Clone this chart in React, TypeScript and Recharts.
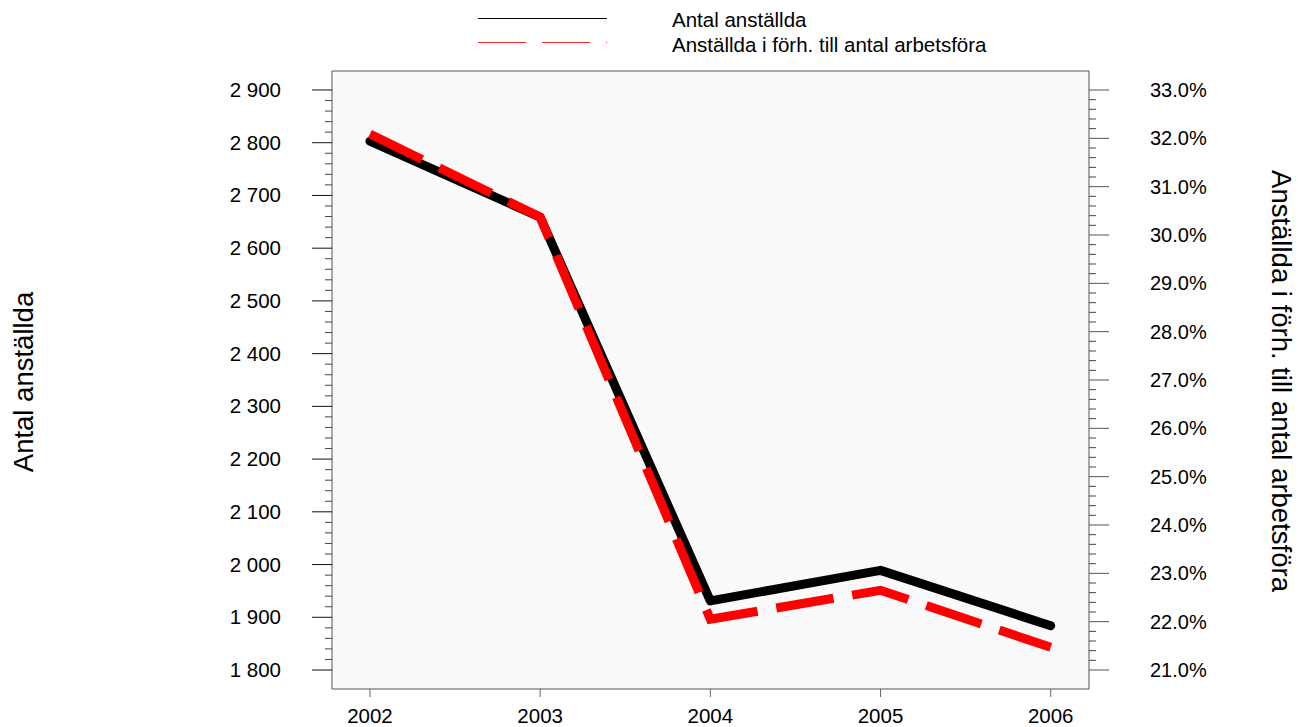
import { LineChart, Line, XAxis, YAxis, ReferenceArea } from "recharts";

const years = [2002, 2003, 2004, 2005, 2006];
const employees = [2803, 2659, 1931, 1989, 1884];
const employeeShare = [32.09, 30.37, 22.05, 22.65, 21.47];

const leftMajor = [1800, 1900, 2000, 2100, 2200, 2300, 2400, 2500, 2600, 2700, 2800, 2900];
const rightMajor = [21, 22, 23, 24, 25, 26, 27, 28, 29, 30, 31, 32, 33];

const LEFT_LABEL = "Antal anställda";
const RIGHT_LABEL = "Anställda i förh. till antal arbetsföra";

// minor ticks: 4 between each major
const leftTicks: number[] = [];
for (let v = 1800; v <= 2900; v += 20) leftTicks.push(v);
const rightTicks: number[] = [];
for (let i = 0; i <= 60; i++) rightTicks.push(Math.round((21 + i * 0.2) * 10) / 10);

const data = years.map((year, i) => ({
  year,
  employees: employees[i],
  share: employeeShare[i],
}));

const FONT = "'Liberation Sans', Arial, sans-serif";

const fmtThousands = (v: number) => {
  const s = String(v);
  return s.length > 3 ? s.slice(0, s.length - 3) + " " + s.slice(-3) : s;
};

const LeftTick = ({ x, y, payload }: any) => {
  const major = leftMajor.includes(payload.value);
  return (
    <g>
      <line x1={x - (major ? 20 : 7)} x2={x} y1={y} y2={y} stroke={major ? "#111" : "#444"} strokeWidth={1} />
      {major && (
        <text x={x - 51} y={y} dy={7} textAnchor="end" fontSize={20.5} fill="#000" fontFamily={FONT}>
          {fmtThousands(payload.value)}
        </text>
      )}
    </g>
  );
};

const RightTick = ({ x, y, payload }: any) => {
  const major = rightMajor.some((m) => Math.abs(m - payload.value) < 1e-6);
  return (
    <g>
      <line x1={x} x2={x + (major ? 20 : 7)} y1={y} y2={y} stroke={major ? "#555" : "#444"} strokeWidth={1} />
      {major && (
        <text x={x + 61} y={y} dy={7} textAnchor="start" fontSize={20} fill="#000" fontFamily={FONT}>
          {payload.value.toFixed(1)}%
        </text>
      )}
    </g>
  );
};

const BottomTick = ({ x, y, payload }: any) => (
  <g>
    <line x1={x} x2={x} y1={y} y2={y + 8} stroke="#666" strokeWidth={1} />
    <text x={x} y={y + 34} textAnchor="middle" fontSize={20.5} fill="#000" fontFamily={FONT}>
      {payload.value}
    </text>
  </g>
);

export default function App() {
  return (
    <div style={{ position: "absolute", left: 0, top: 0, width: 1301, height: 727, background: "#fff", fontFamily: FONT }}>
      <svg width={1301} height={60} style={{ position: "absolute", left: 0, top: 0 }}>
        <line x1={478} x2={607} y1={18.5} y2={18.5} stroke="#000" strokeWidth={1} />
        <line x1={478} x2={607} y1={42.5} y2={42.5} stroke="#ff2a2a" strokeWidth={1} strokeDasharray="48 16" />
        <text x={672} y={27} fontSize={20.5} fill="#000" fontFamily={FONT}>Antal anställda</text>
        <text x={672} y={52} fontSize={20.5} fill="#000" fontFamily={FONT}>Anställda i förh. till antal arbetsföra</text>
      </svg>
      <LineChart
        width={1301}
        height={727}
        data={data}
        margin={{ top: 71, right: 0, bottom: 0, left: 0 }}
        style={{ position: "absolute", left: 0, top: 0 }}
      >
        <XAxis
          dataKey="year"
          type="number"
          domain={[2001.777, 2006.225]}
          ticks={years}
          allowDataOverflow
          height={38}
          axisLine={false}
          tickLine={false}
          tickSize={0}
          tickMargin={0}
          tick={<BottomTick />}
        />
        <YAxis
          yAxisId="left"
          orientation="left"
          domain={[1764, 2936]}
          ticks={leftTicks}
          allowDataOverflow
          interval={0}
          width={332}
          axisLine={false}
          tickLine={false}
          tickSize={0}
          tickMargin={0}
          tick={<LeftTick />}
        />
        <YAxis
          yAxisId="right"
          orientation="right"
          domain={[20.607, 33.393]}
          ticks={rightTicks}
          allowDataOverflow
          interval={0}
          width={212}
          axisLine={false}
          tickLine={false}
          tickSize={0}
          tickMargin={0}
          tick={<RightTick />}
        />
        <ReferenceArea
          yAxisId="left"
          x1={2001.777}
          x2={2006.225}
          y1={1764}
          y2={2936}
          fill="#fafafa"
          fillOpacity={1}
          stroke="#555"
          strokeWidth={1}
        />
        <Line
          yAxisId="left"
          dataKey="employees"
          stroke="#000"
          strokeWidth={9}
          strokeLinecap="round"
          strokeLinejoin="round"
          dot={false}
          isAnimationActive={false}
        />
        <Line
          yAxisId="right"
          dataKey="share"
          stroke="#ff0000"
          strokeWidth={9}
          strokeDasharray="58 19"
          strokeLinecap="butt"
          dot={false}
          isAnimationActive={false}
        />
        <text
          x={33}
          y={382}
          transform="rotate(-90 33 382)"
          textAnchor="middle"
          fontSize={27.5}
          fill="#000"
          fontFamily={FONT}
        >
          {LEFT_LABEL}
        </text>
        <text
          x={1272}
          y={381}
          transform="rotate(90 1272 381)"
          textAnchor="middle"
          fontSize={27.5}
          fill="#000"
          fontFamily={FONT}
        >
          {RIGHT_LABEL}
        </text>
      </LineChart>
    </div>
  );
}
